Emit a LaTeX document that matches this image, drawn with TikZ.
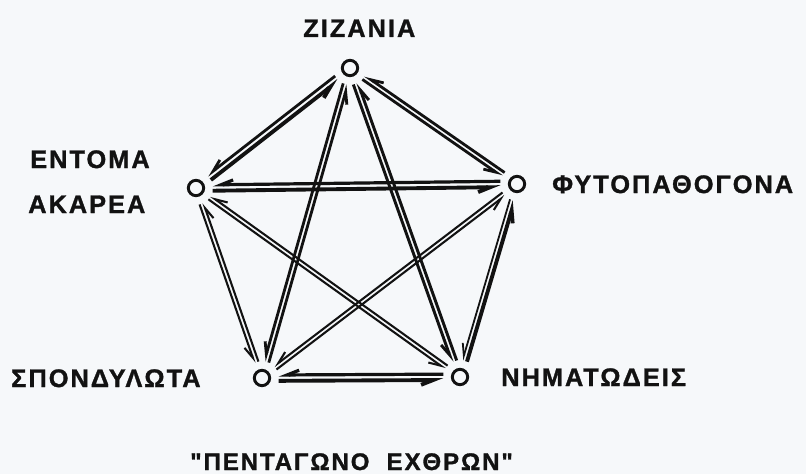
\documentclass[tikz,border=0pt]{standalone}
\usepackage{fontspec}
\setmainfont{Liberation Sans}
\newfontfamily\lblfont{Liberation Sans}[LetterSpace=8,BoldFeatures={FakeBold=1.2}]
\usetikzlibrary{arrows.meta,calc}
\definecolor{ink}{HTML}{121212}
\definecolor{paper}{HTML}{F6F8FA}
% #1 = A, #2 = B, #3 = width of A->B, #4 = width of B->A, #5 = half gap
\newcommand\biedge[5]{%
  \draw[edge,line width=#3] ($(#1)!12.5pt!(#2)!#5!-90:(#2)$) -- ($(#2)!12.5pt!(#1)!#5!90:(#1)$);
  \draw[edge,line width=#4] ($(#2)!12.5pt!(#1)!#5!-90:(#1)$) -- ($(#1)!12.5pt!(#2)!#5!90:(#2)$);
}
\begin{document}
\begin{tikzpicture}[x=0.75pt,y=-0.75pt,
  vtx/.style={circle,draw=ink,line width=2.2pt,minimum size=11.5pt,inner sep=0pt},
  edge/.style={draw=ink,line cap=butt,-{Straight Barb[harpoon,swap,length=9pt,width=7pt]}},
  lbl/.style={font=\lblfont\bfseries\fontsize{19}{22}\selectfont,text=ink,inner sep=0pt,anchor=base west},
  ttl/.style={lbl,font=\lblfont\bfseries\fontsize{18}{22}\selectfont}]
\fill[paper] (0,0) rectangle (806,474);
\useasboundingbox (0,0) rectangle (806,474);
% vertices
\node[vtx] (Z) at (350,68) {};
\node[vtx] (E) at (196,188) {};
\node[vtx] (P) at (517,184) {};
\node[vtx] (S) at (262,378) {};
\node[vtx] (N) at (460,377) {};
% edges
\biedge{E}{Z}{2.9pt}{2.1pt}{2.1pt}
\biedge{E}{P}{2.9pt}{2.4pt}{2.2pt}
\biedge{Z}{P}{2.1pt}{2.1pt}{1.75pt}
\biedge{Z}{S}{2.1pt}{2.1pt}{1.75pt}
\biedge{Z}{N}{2.2pt}{2.2pt}{1.8pt}
\biedge{E}{S}{1.55pt}{1.55pt}{1.5pt}
\biedge{E}{N}{1.55pt}{1.55pt}{1.5pt}
\biedge{S}{P}{1.55pt}{1.55pt}{1.5pt}
\biedge{N}{P}{2.9pt}{1.35pt}{1.75pt}
\biedge{S}{N}{2.9pt}{2.4pt}{2.2pt}
% labels
\node[lbl] (tZ) at (303,37) {ΖΙΖΑΝΙΑ};
\node[lbl] (tE1) at (30,168) {ΕΝΤΟΜΑ};
\node[lbl] (tE2) at (28,213) {ΑΚΑΡΕΑ};
\node[lbl] (tP) at (552,193) {ΦΥΤΟΠΑΘΟΓΟΝΑ};
\node[lbl] (tS) at (11,387) {ΣΠΟΝΔΥΛΩΤΑ};
\node[lbl] (tN) at (501,386) {ΝΗΜΑΤΩΔΕΙΣ};
\node[ttl] (title) at (190,470) {"ΠΕΝΤΑΓΩΝΟ\ \ ΕΧΘΡΩΝ"};
\end{tikzpicture}
\end{document}
